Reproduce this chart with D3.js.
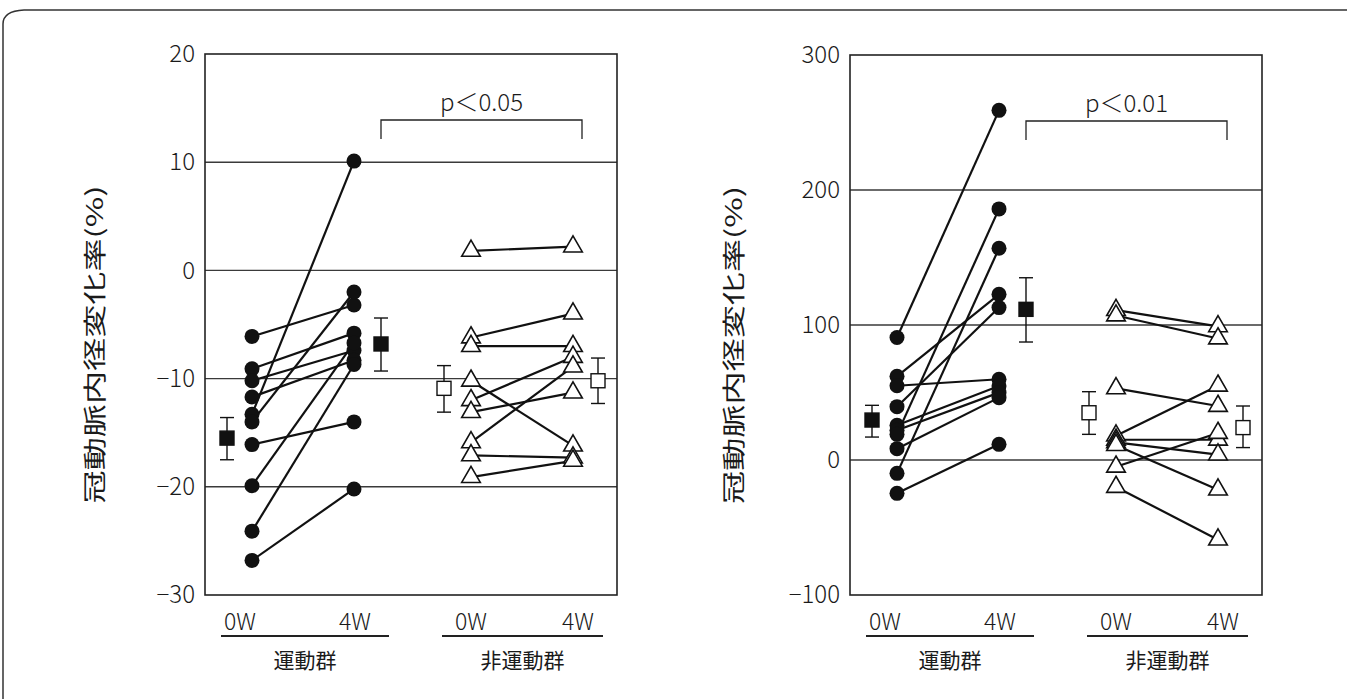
<!DOCTYPE html>
<html>
<head>
<meta charset="utf-8">
<script src="https://cdn.jsdelivr.net/npm/d3@7"></script>
<style>
  body { margin: 0; background: #fff; }
  text { font-family: "Noto Sans CJK JP", "Noto Sans", sans-serif; fill: #1a1a1a; }
</style>
</head>
<body>
<svg id="fig" width="1347" height="699"></svg>
<script>
// ---- data ----
const timepoints = ["0W", "4W"];
const groups = ["運動群", "非運動群"];
const yLabel = "冠動脈内径変化率(%)";
const pLabels = ["p<0.05", "p<0.01"];

// left panel
const leftTicks = [20, 10, 0, -10, -20, -30];
const leftEx0W = [-6.1, -9.1, -10.2, -11.7, -13.3, -14.0, -16.1, -19.9, -24.1, -26.8];
const leftEx4W = [-3.2, -5.8, -7.4, -8.3, 10.1, -2.0, -14.0, -6.7, -8.7, -20.2];
const leftNon0W = [1.8, -6.2, -7.0, -10.2, -12.0, -13.1, -15.9, -17.1, -19.1];
const leftNon4W = [2.2, -4.0, -7.0, -16.2, -8.0, -11.3, -8.9, -17.3, -17.6];
// means: exercise 0W, exercise 4W, non-exercise 0W, non-exercise 4W
const leftMean = [-15.5, -6.8, -10.9, -10.2];
const leftHi = [-13.6, -4.4, -8.8, -8.1];
const leftLo = [-17.5, -9.3, -13.1, -12.3];

// right panel
const rightTicks = [300, 200, 100, 0, -100];
const rightEx0W = [90.7, 62, 55, 39.5, 25.7, 22, 19, 8.4, -9.9, -24.7];
const rightEx4W = [259, 122.7, 59.8, 112.9, 54.8, 49.9, 186, 46.2, 156.8, 11.6];
const rightNon0W = [111, 107, 53, 18, 15, 13, 11, -5, -20];
const rightNon4W = [99, 90, 40, 55, 15, 4, -22, 20, -59];
const rightMean = [29.6, 111.6, 35, 24];
const rightHi = [40.5, 135, 50.6, 40];
const rightLo = [17, 87.4, 19, 9.2];

// ---- layout ----
const svg = d3.select("#fig");

// page border with rounded top-left corner
svg.append("path")
  .attr("d", "M3,699 V24 Q3,11 24,10 H1347")
  .attr("fill", "none")
  .attr("stroke", "#333")
  .attr("stroke-width", 1.5);

// horizontal slot positions inside a panel (0..412 units)
const slot = {
  mean0: [22, 239], sub0: [47, 266], sub4: [149, 368], mean4: [176, 393],
  label0: [35, 266], label4: [150, 373], band: [[16, 184], [237, 398]]
};

function fmt(d) { return d < 0 ? "\u2212" + Math.abs(d) : String(d); }

function drawPanel(cfg) {
  const g = svg.append("g").attr("transform", `translate(${cfg.left},${cfg.top})`);
  const x = d3.scaleLinear().domain([0, 412]).range([0, cfg.w]);
  const y = d3.scaleLinear()
    .domain([cfg.ticks[cfg.ticks.length - 1], cfg.ticks[0]])
    .range([cfg.h, 0]);

  // grid lines
  g.append("g").selectAll("line")
    .data(cfg.ticks.slice(1, -1))
    .join("line")
    .attr("x1", 0).attr("x2", cfg.w)
    .attr("y1", d => y(d)).attr("y2", d => y(d))
    .attr("stroke", "#3a3a3a").attr("stroke-width", 1.4);

  // y axis
  g.append("g")
    .call(d3.axisLeft(y).tickValues(cfg.ticks).tickSize(0).tickPadding(10).tickFormat(fmt))
    .call(a => a.select(".domain").remove())
    .attr("font-family", null).attr("font-size", null)
    .selectAll("text")
    .style("font-size", "24px")
    .style("font-weight", 300);

  // frame
  g.append("rect")
    .attr("width", cfg.w).attr("height", cfg.h)
    .attr("fill", "none").attr("stroke", "#222").attr("stroke-width", 1.6);

  // subject lines
  const pairs = [
    { a: cfg.ex0, b: cfg.ex4, xa: slot.sub0[0], xb: slot.sub4[0] },
    { a: cfg.non0, b: cfg.non4, xa: slot.sub0[1], xb: slot.sub4[1] }
  ];
  pairs.forEach(p => {
    g.append("g").selectAll("line")
      .data(d3.zip(p.a, p.b))
      .join("line")
      .attr("x1", x(p.xa)).attr("x2", x(p.xb))
      .attr("y1", d => y(d[0])).attr("y2", d => y(d[1]))
      .attr("stroke", "#111").attr("stroke-width", 2.2);
  });

  // exercise group: filled circles
  [[cfg.ex0, slot.sub0[0]], [cfg.ex4, slot.sub4[0]]].forEach(([vals, sx]) => {
    g.append("g").selectAll("circle")
      .data(vals)
      .join("circle")
      .attr("cx", x(sx)).attr("cy", d => y(d))
      .attr("r", 7.5).attr("fill", "#111");
  });

  // non-exercise group: open triangles
  const tri = d3.symbol(d3.symbolTriangle, 150);
  [[cfg.non0, slot.sub0[1]], [cfg.non4, slot.sub4[1]]].forEach(([vals, sx]) => {
    g.append("g").selectAll("path")
      .data(vals)
      .join("path")
      .attr("d", tri)
      .attr("transform", d => `translate(${x(sx)},${y(d)})`)
      .attr("fill", "#fff").attr("stroke", "#111").attr("stroke-width", 1.6);
  });

  // means with error bars
  const meanX = [slot.mean0[0], slot.mean4[0], slot.mean0[1], slot.mean4[1]];
  const mg = g.append("g").selectAll("g")
    .data(cfg.mean.map((m, i) => ({ m, hi: cfg.hi[i], lo: cfg.lo[i], x: meanX[i], filled: i < 2 })))
    .join("g");
  mg.append("line")
    .attr("x1", d => x(d.x)).attr("x2", d => x(d.x))
    .attr("y1", d => y(d.hi)).attr("y2", d => y(d.lo))
    .attr("stroke", "#111").attr("stroke-width", 1.4);
  ["hi", "lo"].forEach(k => {
    mg.append("line")
      .attr("x1", d => x(d.x) - 7).attr("x2", d => x(d.x) + 7)
      .attr("y1", d => y(d[k])).attr("y2", d => y(d[k]))
      .attr("stroke", "#111").attr("stroke-width", 1.4);
  });
  mg.append("rect")
    .attr("x", d => x(d.x) - 7).attr("y", d => y(d.m) - 7)
    .attr("width", 14).attr("height", 14)
    .attr("fill", d => d.filled ? "#111" : "#fff")
    .attr("stroke", "#111").attr("stroke-width", 1.4);

  // significance bracket
  const bx0 = x(slot.mean4[0]), bx1 = x(slot.sub4[1]) + 9;
  g.append("path")
    .attr("d", `M${bx0},85 V66 H${bx1} V85`)
    .attr("fill", "none").attr("stroke", "#222").attr("stroke-width", 1.3);
  g.append("text")
    .attr("x", (bx0 + bx1) / 2).attr("y", 57)
    .attr("text-anchor", "middle")
    .style("font-size", "24px").style("font-weight", 300)
    .text(cfg.p.replace("<", "\uFF1C"));

  // x labels
  groups.forEach((name, gi) => {
    [slot.label0[gi], slot.label4[gi]].forEach((lx, ti) => {
      g.append("text")
        .attr("x", x(lx)).attr("y", cfg.h + 35)
        .attr("text-anchor", "middle")
        .style("font-size", "23px").style("font-weight", 300)
        .text(timepoints[ti]);
    });
    const [u0, u1] = slot.band[gi];
    g.append("line")
      .attr("x1", x(u0)).attr("x2", x(u1))
      .attr("y1", cfg.h + 41).attr("y2", cfg.h + 41)
      .attr("stroke", "#222").attr("stroke-width", 2);
    g.append("text")
      .attr("x", x((u0 + u1) / 2)).attr("y", cfg.h + 73)
      .attr("text-anchor", "middle")
      .style("font-size", "21px")
      .text(name);
  });

  // y title (glyphs stretched along the reading direction, as in the print)
  g.append("text")
    .attr("transform", `translate(${cfg.titleX},${cfg.h / 2 + 20}) rotate(-90)`)
    .attr("text-anchor", "middle")
    .attr("textLength", 318)
    .attr("lengthAdjust", "spacingAndGlyphs")
    .style("font-size", "23px")
    .text(yLabel);
}

drawPanel({
  left: 205, top: 54, w: 412, h: 541, ticks: leftTicks,
  ex0: leftEx0W, ex4: leftEx4W, non0: leftNon0W, non4: leftNon4W,
  mean: leftMean, hi: leftHi, lo: leftLo, p: pLabels[0], titleX: -102
});
drawPanel({
  left: 850, top: 55, w: 412, h: 540, ticks: rightTicks,
  ex0: rightEx0W, ex4: rightEx4W, non0: rightNon0W, non4: rightNon4W,
  mean: rightMean, hi: rightHi, lo: rightLo, p: pLabels[1], titleX: -108
});
</script>
</body>
</html>
